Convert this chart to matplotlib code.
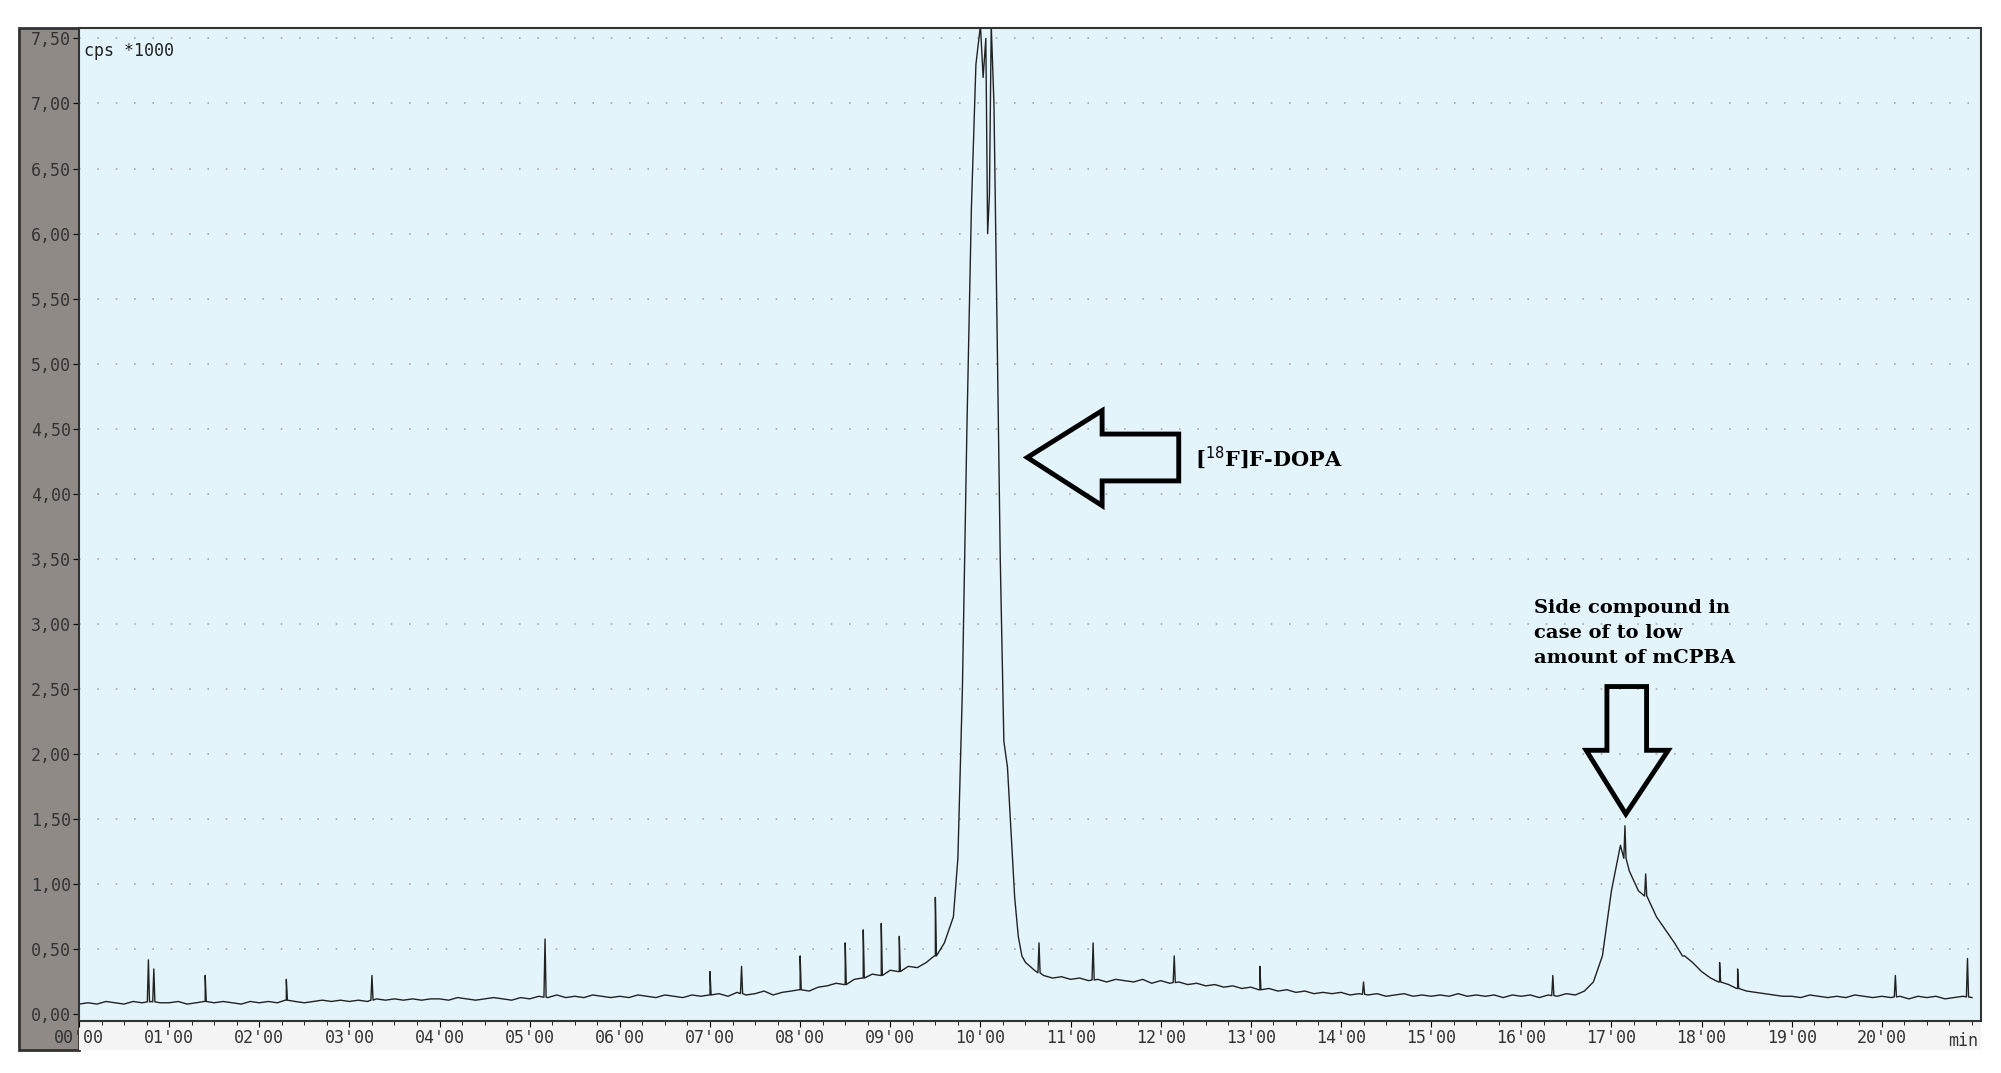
import numpy as np
import matplotlib
matplotlib.use("Agg")
import matplotlib.pyplot as plt
from matplotlib.patches import Polygon, Rectangle

# ---- data ----
base_t1 = np.round(np.arange(0, 9.75, 0.1), 2)
base_v1 = [.08,.09,.08,.10,.09,.08,.10,.09,.10,.09,
           .09,.10,.08,.09,.10,.09,.10,.09,.08,.10,
           .09,.10,.09,.11,.10,.09,.10,.11,.10,.11,
           .10,.11,.10,.12,.11,.12,.11,.12,.11,.12,
           .12,.11,.13,.12,.11,.12,.13,.12,.11,.13,
           .12,.14,.13,.15,.13,.14,.13,.15,.14,.13,
           .14,.13,.15,.14,.13,.15,.14,.13,.15,.14,
           .15,.16,.14,.17,.15,.16,.18,.15,.17,.18,
           .19,.18,.21,.22,.24,.23,.27,.28,.31,.30,
           .34,.33,.37,.36,.40,.45,.55,.75]
peak_t = [9.75,9.8,9.85,9.9,9.95,10.0,10.03,10.06,10.08,10.1,10.12,10.15,10.18,10.22,10.26,10.3,10.34,10.38,10.42,10.46]
peak_v = [1.2,2.5,4.5,6.2,7.3,7.6,7.2,7.5,6.0,6.3,7.6,7.0,5.5,3.5,2.1,1.9,1.4,0.9,0.6,0.45]
base_t2 = np.round(np.arange(10.5, 21.05, 0.1), 2)
base_v2 = [.40,.34,.30,.28,.29,
           .27,.28,.26,.27,.25,.27,.26,.25,.27,.24,
           .26,.24,.25,.23,.24,.22,.23,.21,.22,.20,
           .21,.19,.20,.18,.19,.17,.18,.16,.17,.16,
           .17,.15,.16,.15,.16,.14,.15,.16,.14,.15,
           .14,.15,.14,.16,.14,.15,.14,.15,.13,.15,
           .14,.15,.13,.15,.14,.16,.15,.18,.25,.45,
           .95,1.30,1.10,.95,.90,.75,.65,.55,.45,.40,
           .33,.28,.25,.23,.20,.18,.17,.16,.15,.14,
           .14,.13,.15,.14,.13,.14,.13,.15,.14,.13,
           .14,.13,.14,.12,.14,.13,.14,.12,.13,.14,
           .13]
spike_t = [0.77,0.83,1.4,2.3,3.25,5.17,7.0,7.35,8.0,8.5,8.7,8.9,9.1,9.5,10.65,11.25,12.15,13.1,14.25,16.35,17.15,17.38,17.8,18.2,18.4,20.15,20.95]
spike_h = [0.42,0.35,0.30,0.27,0.30,0.58,0.33,0.37,0.45,0.55,0.65,0.70,0.60,0.90,0.55,0.55,0.45,0.37,0.25,0.30,1.45,1.08,0.45,0.40,0.35,0.30,0.43]

xtick_labels = ["00'00","01'00","02'00","03'00","04'00","05'00","06'00","07'00","08'00","09'00","10'00",
                "11'00","12'00","13'00","14'00","15'00","16'00","17'00","18'00","19'00","20'00"]
yticks = np.arange(0, 7.51, 0.5)

# ---- build trace ----
t = np.concatenate([base_t1, peak_t, base_t2])
v = np.concatenate([base_v1, peak_v, base_v2])
st, sv = [], []
for s, h in zip(spike_t, spike_h):
    b = np.interp(s, t, v)
    st += [s-0.012, s, s+0.012]; sv += [b, h, b]
t = np.concatenate([t, st]); v = np.concatenate([v, sv])
o = np.argsort(t, kind="stable"); t = t[o]; v = v[o]

fig = plt.figure(figsize=(20.01, 10.73), dpi=100)
fig.patches.append(Rectangle((19/2001, 1-1050/1073), 60/2001, 1022/1073, transform=fig.transFigure,
                             facecolor="#8f8a85", edgecolor="#333333", lw=2, zorder=-2))
fig.patches.append(Rectangle((79/2001, 1-1050/1073), 1902/2001, 29/1073, transform=fig.transFigure,
                             facecolor="#f4f4f4", edgecolor="none", zorder=-2))
ax = fig.add_axes([79/2001, 1-1021/1073, 1902/2001, 993/1073])
ax.set_zorder(2)
ax.set_facecolor("#e4f4fb")
ax.plot(t, v, color="#222222", lw=1.0)
ax.set_xlim(0, 21.1)
ax.set_ylim(-0.05, 7.58)
ax.set_yticks(yticks)
ax.set_yticklabels([f"{y:.2f}".replace(".", ",") for y in yticks], family="DejaVu Sans Mono", fontsize=12, color="#333333")
ax.set_xticks(np.arange(0, 21))
ax.set_xticklabels(xtick_labels, family="DejaVu Sans Mono", fontsize=12, color="#333333")
ax.set_xticks(np.arange(0, 21.1, 0.25), minor=True)
ax.tick_params(axis="both", length=4, pad=2)
ax.tick_params(axis="x", which="minor", length=3)
for y in yticks[1:]:
    ax.axhline(y, color="#aaaaaa", lw=1.2, ls=(0, (1, 10)), zorder=0)
for s in ax.spines.values():
    s.set_color("#333333"); s.set_linewidth(1.5)
ax.text(0.05, 7.4, "cps *1000", family="DejaVu Sans Mono", fontsize=12, va="center", color="#222222")
ax.text(21.07, -0.2, "min", family="DejaVu Sans Mono", fontsize=12, ha="right", va="center", color="#333333")

# arrows
left_arrow = [(10.52,4.28),(11.35,4.64),(11.35,4.46),(12.2,4.46),(12.2,4.10),(11.35,4.10),(11.35,3.91)]
ax.add_patch(Polygon(left_arrow, closed=True, fill=False, edgecolor="black", lw=3.5, zorder=5))
down_arrow = [(17.16,1.54),(17.63,2.03),(17.39,2.03),(17.39,2.52),(16.95,2.52),(16.95,2.03),(16.72,2.03)]
ax.add_patch(Polygon(down_arrow, closed=True, fill=False, edgecolor="black", lw=3.5, zorder=5))
ax.text(12.38, 4.28, r"[$^{18}$F]F-DOPA", family="DejaVu Serif", fontweight="bold", fontsize=15, va="center")
ax.text(16.14, 2.67, "Side compound in\ncase of to low\namount of mCPBA", family="DejaVu Serif",
        fontweight="bold", fontsize=14, va="bottom", linespacing=1.5)
fig.savefig("out.png", dpi=100)
